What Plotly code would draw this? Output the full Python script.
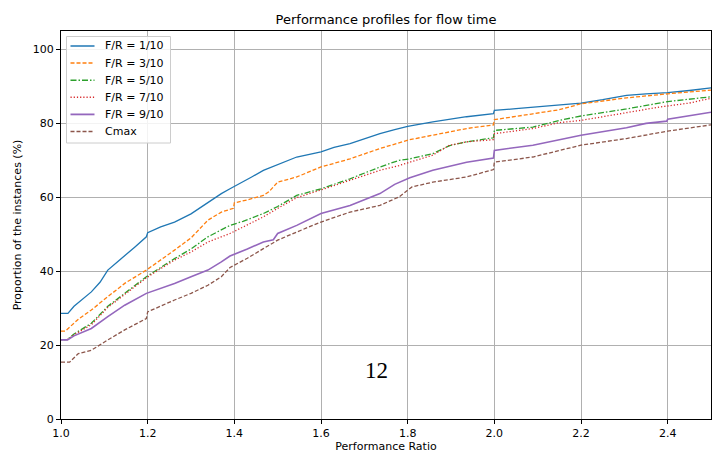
import plotly.graph_objects as go

names = ["F/R = 1/10", "F/R = 3/10", "F/R = 5/10", "F/R = 7/10", "F/R = 9/10", "Cmax"]

x_fr1 = [1.0, 1.016, 1.03, 1.05, 1.07, 1.09, 1.108, 1.13, 1.147, 1.17, 1.197, 1.2, 1.23, 1.262, 1.30, 1.339, 1.37,
         1.39, 1.42, 1.44, 1.467, 1.50, 1.544, 1.6, 1.63, 1.667, 1.70, 1.736, 1.77, 1.80, 1.858, 1.90, 1.936, 1.998,
         2.0, 2.05, 2.089, 2.15, 2.2, 2.25, 2.305, 2.35, 2.4, 2.45, 2.5]
y_fr1 = [28.6, 28.6, 30.5, 32.5, 34.4, 37.0, 40.3, 42.5, 44.3, 46.5, 49.3, 50.4, 52.0, 53.3, 55.5, 58.7, 61.0,
         62.3, 64.1, 65.5, 67.3, 68.8, 70.9, 72.3, 73.5, 74.5, 75.8, 77.2, 78.3, 79.2, 80.4, 81.2, 81.8, 82.6,
         83.5, 84.0, 84.4, 85.0, 85.5, 86.4, 87.6, 88.0, 88.3, 88.9, 89.6]

x_fr3 = [1.0, 1.01, 1.04, 1.07, 1.108, 1.147, 1.197, 1.23, 1.262, 1.30, 1.339, 1.37, 1.398, 1.40, 1.43, 1.467, 1.48,
         1.50, 1.544, 1.6, 1.667, 1.736, 1.805, 1.858, 1.936, 1.998, 2.0, 2.089, 2.15, 2.2, 2.305, 2.4, 2.5]
y_fr3 = [23.8, 23.8, 27.0, 29.5, 33.1, 36.7, 40.3, 43.0, 45.7, 49.0, 53.8, 56.0, 57.0, 58.5, 59.3, 60.5, 61.5,
         64.1, 65.5, 68.2, 70.4, 73.2, 75.6, 76.8, 78.6, 79.6, 81.0, 82.6, 83.7, 85.3, 86.9, 88.0, 89.0]

x_fr5 = [1.0, 1.015, 1.03, 1.07, 1.108, 1.147, 1.197, 1.23, 1.262, 1.30, 1.339, 1.39, 1.42, 1.467, 1.50, 1.544, 1.6,
         1.667, 1.736, 1.78, 1.805, 1.858, 1.897, 1.936, 1.998, 2.0, 2.089, 2.15, 2.2, 2.305, 2.4, 2.5]
y_fr5 = [21.5, 21.5, 23.0, 25.9, 30.5, 34.0, 38.5, 41.0, 43.4, 46.0, 49.3, 52.4, 53.5, 55.6, 57.5, 60.5, 62.3,
         65.0, 68.2, 70.0, 70.4, 71.8, 74.0, 75.0, 76.1, 78.1, 79.0, 80.8, 82.0, 83.9, 85.9, 87.2]

x_fr7 = [1.0, 1.015, 1.03, 1.07, 1.108, 1.147, 1.197, 1.23, 1.262, 1.30, 1.339, 1.39, 1.42, 1.467, 1.50, 1.544, 1.6,
         1.667, 1.736, 1.78, 1.805, 1.858, 1.897, 1.936, 1.998, 2.0, 2.089, 2.15, 2.2, 2.305, 2.38, 2.45, 2.5]
y_fr7 = [21.5, 21.5, 22.8, 25.5, 30.2, 33.8, 38.2, 40.7, 43.0, 45.2, 47.9, 50.2, 52.0, 54.7, 57.0, 59.9, 62.0,
         64.6, 67.3, 68.6, 69.5, 71.4, 74.1, 75.0, 75.6, 77.2, 78.6, 80.2, 80.8, 83.0, 84.4, 85.5, 86.8]

x_fr9 = [1.0, 1.015, 1.03, 1.07, 1.108, 1.147, 1.197, 1.262, 1.30, 1.339, 1.37, 1.39, 1.43, 1.467, 1.49, 1.50, 1.544,
         1.6, 1.667, 1.736, 1.77, 1.805, 1.858, 1.936, 1.998, 2.0, 2.089, 2.15, 2.2, 2.305, 2.35, 2.398, 2.4, 2.5]
y_fr9 = [21.4, 21.4, 22.5, 24.5, 27.7, 30.8, 34.0, 36.7, 38.5, 40.3, 42.5, 44.1, 46.0, 47.9, 48.5, 50.2, 52.4,
         55.6, 57.8, 61.0, 63.5, 65.3, 67.3, 69.5, 70.6, 72.7, 74.1, 75.6, 76.8, 78.8, 80.0, 80.6, 81.1, 83.0]

x_cmax = [1.0, 1.02, 1.04, 1.07, 1.108, 1.147, 1.197, 1.2, 1.262, 1.30, 1.339, 1.37, 1.39, 1.43, 1.467, 1.50, 1.544,
          1.6, 1.667, 1.736, 1.78, 1.81, 1.858, 1.936, 1.998, 2.0, 2.089, 2.15, 2.2, 2.305, 2.4, 2.5]
y_cmax = [15.4, 15.4, 17.7, 18.6, 21.4, 24.1, 27.2, 29.0, 32.2, 34.0, 36.2, 38.5, 41.0, 43.5, 46.1, 48.4, 50.6,
          53.3, 56.0, 57.8, 60.1, 62.8, 64.1, 65.5, 67.5, 69.5, 70.9, 72.7, 74.1, 75.9, 77.9, 79.6]

xs = [x_fr1, x_fr3, x_fr5, x_fr7, x_fr9, x_cmax]
ys = [y_fr1, y_fr3, y_fr5, y_fr7, y_fr9, y_cmax]
colors = ["#1f77b4", "#ff7f0e", "#2ca02c", "#d62728", "#9467bd", "#8c564b"]
dashes = ["solid", "4px,2px", "6px,2px,1.5px,2px", "1.2px,2px", "solid", "4px,2px"]
widths = [1.3, 1.3, 1.3, 1.3, 1.6, 1.3]

x_ticks = [1.0, 1.2, 1.4, 1.6, 1.8, 2.0, 2.2, 2.4]
y_ticks = [0, 20, 40, 60, 80, 100]

# plot area in pixels (for legend placement in paper coordinates)
L, R, T, B = 61, 711, 31, 419
def px(xp):
    return (xp - L) / (R - L)
def py(yp):
    return (B - yp) / (B - T)

fig = go.Figure()
for n, x, y, c, d, w in zip(names, xs, ys, colors, dashes, widths):
    fig.add_trace(go.Scatter(x=x, y=y, mode="lines", name=n, showlegend=False,
                             line=dict(color=c, dash=d, width=w, shape="linear")))

fig.add_annotation(x=1.727, y=13, xref="x", yref="y", text="12", showarrow=False,
                   font=dict(family="Liberation Serif, DejaVu Serif, serif", size=23, color="black"))

# legend box drawn like matplotlib's
shapes = [dict(type="rect", xref="paper", yref="paper", layer="above",
               x0=px(66.5), x1=px(170.5), y0=py(143), y1=py(36.5),
               line=dict(color="#cccccc", width=1), fillcolor="rgba(255,255,255,0.85)")]
annotations = []
for i, (n, c, d, w) in enumerate(zip(names, colors, dashes, widths)):
    yc = 46 + i * 17.1
    shapes.append(dict(type="line", xref="paper", yref="paper", layer="above",
                       x0=px(70.5), x1=px(94.5), y0=py(yc), y1=py(yc),
                       line=dict(color=c, dash=d, width=w + 0.2)))
    annotations.append(dict(x=px(103), y=py(yc), xref="paper", yref="paper", text=n,
                            showarrow=False, xanchor="left", yanchor="middle",
                            font=dict(family="DejaVu Sans", size=11, color="black")))
for a in annotations:
    fig.add_annotation(**a)

axis_common = dict(showline=True, linecolor="black", linewidth=1, mirror=True,
                   ticks="outside", ticklen=4, tickcolor="black", tickwidth=1,
                   showgrid=True, gridcolor="#b0b0b0", gridwidth=1, zeroline=False,
                   tickfont=dict(family="DejaVu Sans", size=11, color="black"))

fig.update_layout(
    width=717, height=457,
    margin=dict(l=L, r=717 - R, t=T, b=457 - B),
    paper_bgcolor="white", plot_bgcolor="white",
    font=dict(family="DejaVu Sans", size=11, color="black"),
    title=dict(text="Performance profiles for flow time", x=0.5, xref="paper",
               y=1 - 19 / 457, yref="container", yanchor="middle",
               font=dict(family="DejaVu Sans", size=13, color="black")),
    xaxis=dict(range=[1.0, 2.5], tickvals=x_ticks, tickformat=".1f",
               title=dict(text="Performance Ratio", standoff=2,
                          font=dict(family="DejaVu Sans", size=11)),
               **axis_common),
    yaxis=dict(range=[0, 105], tickvals=y_ticks,
               title=dict(text="Proportion of the instances (%)", standoff=8,
                          font=dict(family="DejaVu Sans", size=11)),
               **axis_common),
    shapes=shapes,
    showlegend=False,
)

fig.write_html("out.html", config={"displayModeBar": False},
               post_script="document.body.style.margin='0px';")
